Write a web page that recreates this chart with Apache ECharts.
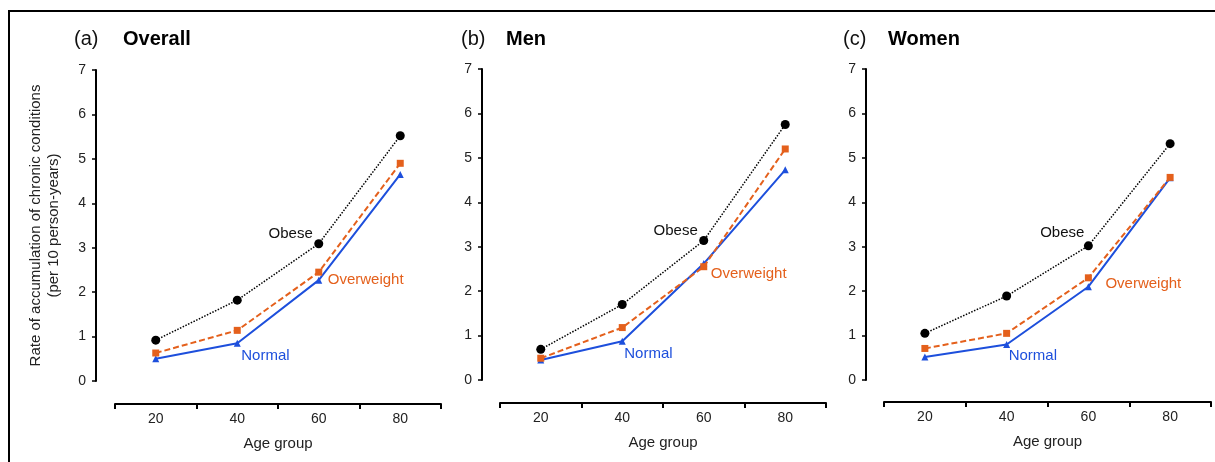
<!DOCTYPE html>
<html>
<head>
<meta charset="utf-8">
<script src="https://cdn.jsdelivr.net/npm/echarts@6/dist/echarts.min.js"></script>
<style>
  html, body { margin: 0; padding: 0; background: #fff; }
  #chart { width: 1215px; height: 462px; }
</style>
</head>
<body>
<div id="chart"></div>
<script>
// ---- data ----
const ageGroups = ['20', '40', '60', '80'];
const yTicks = [0, 1, 2, 3, 4, 5, 6, 7];

const overallObese      = [0.92, 1.82, 3.09, 5.52];
const overallOverweight = [0.63, 1.14, 2.45, 4.90];
const overallNormal     = [0.50, 0.85, 2.27, 4.65];

const menObese      = [0.69, 1.70, 3.14, 5.75];
const menOverweight = [0.49, 1.18, 2.55, 5.20];
const menNormal     = [0.45, 0.87, 2.62, 4.73];

const womenObese      = [1.05, 1.89, 3.02, 5.32];
const womenOverweight = [0.71, 1.05, 2.30, 4.56];
const womenNormal     = [0.52, 0.80, 2.10, 4.55];

const panelLetters = ['(a)', '(b)', '(c)'];
const panelNames = ['Overall', 'Men', 'Women'];
const groupNames = ['Obese', 'Overweight', 'Normal'];
const yAxisTitle = 'Rate of accumulation of chronic conditions\n(per 10 person-years)';
const xAxisTitle = 'Age group';

const panelData = [
  [overallObese, overallOverweight, overallNormal],
  [menObese, menOverweight, menNormal],
  [womenObese, womenOverweight, womenNormal]
];

// ---- layout / style ----
const FONT = '"Liberation Sans", Arial, Helvetica, sans-serif';
const grids = [
  { left: 115, top: 70, width: 326, height: 311, yOff: 19, xOff: 23, letterX: 74, nameX: 123 },
  { left: 500, top: 69, width: 326, height: 311, yOff: 18, xOff: 23, letterX: 461, nameX: 506 },
  { left: 884, top: 69, width: 327, height: 311, yOff: 18, xOff: 22, letterX: 843, nameX: 888 }
];
const groupStyle = [
  { color: '#000000', type: 'dotted', width: 1.5, symbol: 'circle', size: 9, labelIdx: 2, pos: 'left' },
  { color: '#e4601c', type: [6, 3], width: 2, symbol: 'rect', size: 7, labelIdx: 2, pos: 'right' },
  { color: '#1d4fdc', type: 'solid', width: 2, symbol: 'triangle', size: 7, labelIdx: 1, pos: 'right' }
];
// label offsets per panel per group [dx, dy]
const labelOffsets = [
  [[-1.5, -10], [5.5, 8], [0.5, 13]],
  [[-1.5, -10], [3.5, 7], [-1.5, 13]],
  [[0.5, -13], [13.5, 6], [-1.5, 11]]
];

const option = {
  animation: false,
  textStyle: { fontFamily: FONT },
  title: [],
  grid: [],
  xAxis: [],
  yAxis: [],
  series: [],
  graphic: [
    { type: 'line', shape: { x1: 9, y1: 11, x2: 1215, y2: 11 }, style: { stroke: '#000', lineWidth: 2 } },
    { type: 'line', shape: { x1: 9, y1: 10, x2: 9, y2: 462 }, style: { stroke: '#000', lineWidth: 2 } }
  ]
};

grids.forEach((g, i) => {
  option.title.push({
    text: panelLetters[i], left: g.letterX - 5, top: 24,
    textStyle: { fontFamily: FONT, fontSize: 20, fontWeight: 'normal', color: '#111' }
  });
  option.title.push({
    text: panelNames[i], left: g.nameX - 5, top: 24,
    textStyle: { fontFamily: FONT, fontSize: 20, fontWeight: 'bold', color: '#000' }
  });
  option.grid.push({ left: g.left, top: g.top, width: g.width, height: g.height, containLabel: false });
  option.xAxis.push({
    type: 'category', gridIndex: i, data: ageGroups, boundaryGap: true,
    offset: g.xOff,
    name: xAxisTitle, nameLocation: 'middle', nameGap: 32,
    nameTextStyle: { fontFamily: FONT, fontSize: 15, color: '#222' },
    axisLine: { onZero: false, lineStyle: { color: '#000', width: 2 } },
    axisTick: { show: true, inside: false, length: 5, lineStyle: { color: '#000', width: 2 } },
    axisLabel: { fontFamily: FONT, fontSize: 14, color: '#222', margin: 8 },
    splitLine: { show: false }
  });
  option.yAxis.push({
    type: 'value', gridIndex: i, min: yTicks[0], max: yTicks[yTicks.length - 1], interval: 1,
    offset: g.yOff,
    name: i === 0 ? yAxisTitle : '', nameLocation: 'middle', nameRotate: 90, nameGap: 33,
    nameTextStyle: { fontFamily: FONT, fontSize: 15, color: '#222', lineHeight: 18 },
    axisLine: { show: true, onZero: false, lineStyle: { color: '#000', width: 2 } },
    axisTick: { show: true, inside: false, length: 4, lineStyle: { color: '#000', width: 1.5 } },
    axisLabel: { fontFamily: FONT, fontSize: 14, color: '#222', margin: 10 },
    splitLine: { show: false }
  });
  // draw Normal, Overweight, then Obese on top
  [2, 1, 0].forEach(k => {
    const st = groupStyle[k];
    const vals = panelData[i][k];
    const off = labelOffsets[i][k];
    const data = vals.map((v, j) => j === st.labelIdx ? {
      value: v,
      label: {
        show: true, formatter: groupNames[k], position: st.pos, distance: 0,
        offset: off, fontFamily: FONT, fontSize: 15, color: k === 0 ? '#111' : st.color
      }
    } : v);
    option.series.push({
      type: 'line', name: groupNames[k], xAxisIndex: i, yAxisIndex: i,
      data: data,
      symbol: st.symbol, symbolSize: st.size, showSymbol: true,
      itemStyle: { color: st.color },
      lineStyle: { color: st.color, width: st.width, type: st.type },
      label: { show: false },
      z: 3 - k
    });
  });
});

const chart = echarts.init(document.getElementById('chart'), null, { renderer: 'canvas' });
chart.setOption(option);
</script>
</body>
</html>
